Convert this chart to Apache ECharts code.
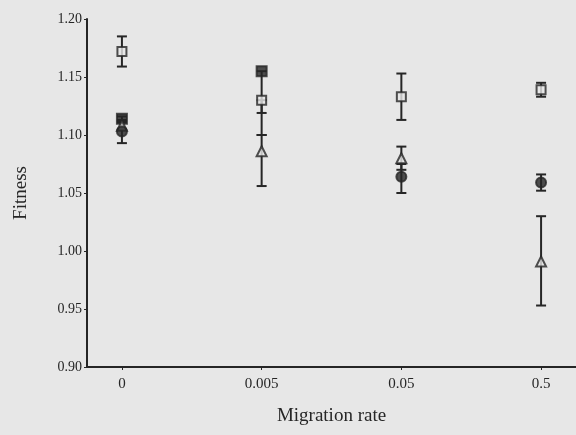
<!DOCTYPE html>
<html><head><meta charset="utf-8">
<script src="https://cdn.jsdelivr.net/npm/echarts@6/dist/echarts.min.js"></script>
<style>html,body{margin:0;padding:0;background:#e7e7e7;}#c{width:576px;height:435px;}</style>
</head><body><div id="c"></div>
<script>
const categories = ['0', '0.005', '0.05', '0.5'];
const yTicks = [0.90, 0.95, 1.00, 1.05, 1.10, 1.15, 1.20];

const openSquare     = [1.172, 1.130, 1.133, 1.139];
const openSquareLow  = [1.159, 1.119, 1.113, 1.133];
const openSquareHigh = [1.185, 1.130, 1.153, 1.145];

const filledSquare     = [1.114, 1.155, null, null];
const filledSquareLow  = [1.112, 1.100, null, null];
const filledSquareHigh = [1.116, 1.155, null, null];

const filledCircle     = [1.103, null, 1.064, 1.059];
const filledCircleLow  = [1.093, null, 1.050, 1.052];
const filledCircleHigh = [1.113, null, 1.075, 1.066];

const triangle     = [1.108, 1.086, 1.080, 0.991];
const triangleLow  = [1.105, 1.056, 1.070, 0.953];
const triangleHigh = [1.111, 1.100, 1.090, 1.030];

const ink = '#262626';
const font = '"Liberation Serif", "DejaVu Serif", serif';

function pts(vals) {
  return vals.map((v, i) => v == null ? null : [i, v]).filter(Boolean);
}
function errs(vals, lo, hi) {
  return vals.map((v, i) => v == null ? null : [i, lo[i], hi[i]]).filter(Boolean);
}
function errSeries(data) {
  return {
    type: 'custom',
    data: data,
    z: 1,
    renderItem: function (params, api) {
      const x = api.value(0);
      const lo = api.coord([x, api.value(1)]);
      const hi = api.coord([x, api.value(2)]);
      const w = 5;
      const st = { stroke: ink, lineWidth: 2 };
      return {
        type: 'group',
        children: [
          { type: 'line', shape: { x1: lo[0], y1: lo[1], x2: hi[0], y2: hi[1] }, style: st },
          { type: 'line', shape: { x1: lo[0] - w, y1: lo[1], x2: lo[0] + w, y2: lo[1] }, style: st },
          { type: 'line', shape: { x1: hi[0] - w, y1: hi[1], x2: hi[0] + w, y2: hi[1] }, style: st }
        ]
      };
    }
  };
}
function markSeries(vals, symbol, size, filled) {
  return {
    type: 'scatter',
    data: pts(vals),
    symbol: symbol,
    symbolSize: size,
    z: 3,
    itemStyle: { color: filled ? ink : '#e7e7e7', borderColor: ink, borderWidth: 2 }
  };
}

const chart = echarts.init(document.getElementById('c'), null, { renderer: 'canvas' });
chart.setOption({
  backgroundColor: '#e7e7e7',
  animation: false,
  grid: { left: 87, top: 19, bottom: 68, right: -5 },
  xAxis: {
    type: 'value',
    min: -0.25, max: 3.25,
    name: 'Migration rate',
    nameLocation: 'middle',
    nameGap: 40,
    nameTextStyle: { fontFamily: font, fontSize: 19, color: ink },
    axisLine: { onZero: false, lineStyle: { color: ink, width: 2 } },
    axisTick: { show: true, customValues: [0, 1, 2, 3], length: 3, lineStyle: { color: ink } },
    axisLabel: {
      customValues: [0, 1, 2, 3],
      formatter: v => categories[Math.round(v)],
      fontFamily: font, fontSize: 15, color: ink, margin: 10
    },
    splitLine: { show: false }
  },
  yAxis: {
    type: 'value',
    min: 0.90, max: 1.20, interval: 0.05,
    name: 'Fitness',
    nameLocation: 'middle',
    nameGap: 56,
    nameTextStyle: { fontFamily: font, fontSize: 19, color: ink },
    axisLine: { show: true, onZero: false, lineStyle: { color: ink, width: 2 } },
    axisTick: { show: true, length: 3, lineStyle: { color: ink } },
    axisLabel: {
      formatter: v => yTicks.find(t => Math.abs(t - v) < 1e-6).toFixed(2),
      fontFamily: font, fontSize: 14, color: ink, margin: 5
    },
    splitLine: { show: false }
  },
  series: [
    errSeries(errs(openSquare, openSquareLow, openSquareHigh)),
    errSeries(errs(filledSquare, filledSquareLow, filledSquareHigh)),
    errSeries(errs(filledCircle, filledCircleLow, filledCircleHigh)),
    errSeries(errs(triangle, triangleLow, triangleHigh)),
    markSeries(openSquare, 'rect', 9, false),
    markSeries(filledSquare, 'rect', 10, true),
    markSeries(triangle, 'triangle', 10, false),
    markSeries(filledCircle, 'circle', 10, true)
  ]
});
</script>
</body></html>
